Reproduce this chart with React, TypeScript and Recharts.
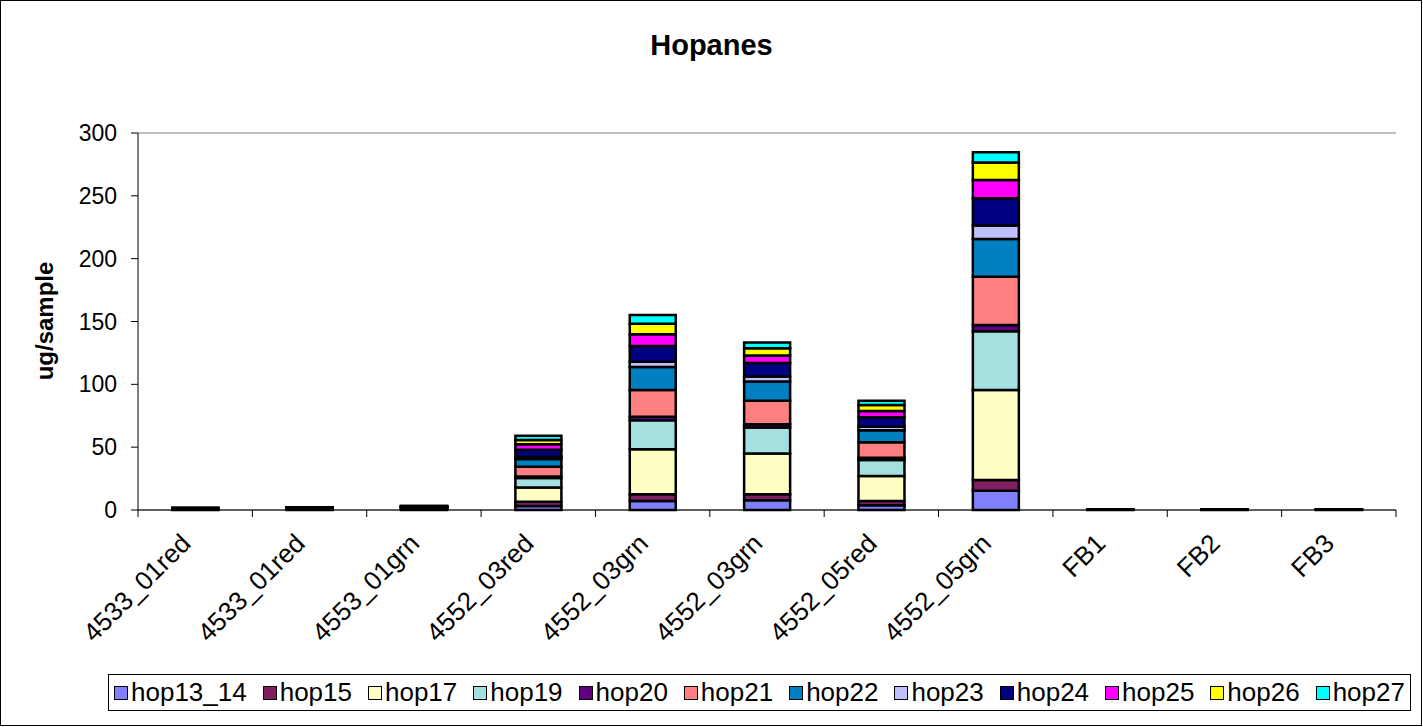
import React from 'react';
import { BarChart, Bar, XAxis, YAxis, CartesianGrid } from 'recharts';

const categories = ['4533_01red', '4533_01red', '4553_01grn', '4552_03red', '4552_03grn', '4552_03grn', '4552_05red', '4552_05grn', 'FB1', 'FB2', 'FB3'];

const hop13_14 = [0.2, 0.3, 0.4, 3.2, 7.2, 7.7, 3.7, 15.4, 0.1, 0.1, 0.1];
const hop15 = [0.1, 0.1, 0.2, 3.4, 5.3, 4.8, 3.4, 8.5, 0, 0, 0];
const hop17 = [0.4, 0.5, 0.7, 11.4, 35.8, 32.4, 19.9, 71.6, 0.1, 0.1, 0.1];
const hop19 = [0.3, 0.3, 0.5, 7.4, 23.1, 20.7, 12.7, 46.7, 0.1, 0.1, 0.1];
const hop20 = [0, 0, 0.1, 1.3, 2.9, 2.7, 1.8, 5, 0, 0, 0];
const hop21 = [0.2, 0.3, 0.4, 7.7, 21.2, 18.6, 12.5, 38.5, 0.1, 0.1, 0.1];
const hop22 = [0.2, 0.2, 0.3, 6.1, 18.3, 15.4, 9.5, 30, 0.1, 0.1, 0.1];
const hop23 = [0, 0.1, 0.1, 1.8, 4.2, 4, 2.7, 10.6, 0, 0, 0];
const hop24 = [0.1, 0.1, 0.2, 5.6, 12.5, 10.6, 7.7, 21.7, 0, 0, 0];
const hop25 = [0.1, 0.1, 0.1, 4.5, 9.3, 6.1, 4.8, 14.6, 0, 0, 0];
const hop26 = [0.1, 0.1, 0.1, 3.4, 8.5, 5.8, 4.8, 14, 0, 0, 0];
const hop27 = [0, 0, 0.1, 3.2, 6.9, 4.5, 3.5, 8, 0, 0, 0];

const yTicks = [0, 50, 100, 150, 200, 250, 300];

const series = [
  { key: 'hop13_14', values: hop13_14, color: '#8080ff' },
  { key: 'hop15', values: hop15, color: '#7f1f5f' },
  { key: 'hop17', values: hop17, color: '#ffffc4' },
  { key: 'hop19', values: hop19, color: '#a4e0e0' },
  { key: 'hop20', values: hop20, color: '#600080' },
  { key: 'hop21', values: hop21, color: '#ff8080' },
  { key: 'hop22', values: hop22, color: '#0080c0' },
  { key: 'hop23', values: hop23, color: '#c0c0ff' },
  { key: 'hop24', values: hop24, color: '#000080' },
  { key: 'hop25', values: hop25, color: '#ff00ff' },
  { key: 'hop26', values: hop26, color: '#ffff00' },
  { key: 'hop27', values: hop27, color: '#00ffff' },
];

const data = categories.map((name, i) => {
  const row: Record<string, string | number> = { name };
  series.forEach((s) => {
    row[s.key] = s.values[i];
  });
  return row;
});

const FONT = '"Liberation Sans", Arial, sans-serif';

// Excel-style category tick: mark on the category boundary, label rotated 45deg
const XTick = (props: any) => {
  const { x, y, payload, index, visibleTicksCount } = props;
  const half = payload.offset || 0;
  const tx = x - 3;
  const ty = y + 35;
  return (
    <g>
      <line x1={x - half} y1={y} x2={x - half} y2={y + 7} stroke="#000" />
      {index === visibleTicksCount - 1 && (
        <line x1={x + half} y1={y} x2={x + half} y2={y + 7} stroke="#000" />
      )}
      <text
        x={tx}
        y={ty}
        transform={`rotate(-45, ${tx}, ${ty})`}
        textAnchor="end"
        fontSize={26}
        fontFamily={FONT}
        fill="#000"
      >
        {payload.value}
      </text>
    </g>
  );
};

export default function App() {
  return (
    <div style={{ position: 'absolute', left: 0, top: 0, width: 1423, height: 727, background: '#fff', fontFamily: FONT }}>
      <div style={{ position: 'absolute', left: 0, top: 0, width: 1420, height: 724, border: '1px solid #000' }} />
      <div style={{ position: 'absolute', left: 0, top: 29, width: 1423, textAlign: 'center', fontSize: 29, fontWeight: 'bold' }}>
        Hopanes
      </div>
      <div
        style={{
          position: 'absolute',
          left: 45,
          top: 321,
          transform: 'translate(-50%, -50%) rotate(-90deg)',
          fontSize: 24,
          fontWeight: 'bold',
          whiteSpace: 'nowrap',
        }}
      >
        ug/sample
      </div>
      <div style={{ position: 'absolute', left: 0, top: 0 }}>
        <BarChart
          width={1423}
          height={727}
          data={data}
          margin={{ top: 133, right: 27, left: 78, bottom: 67 }}
          barCategoryGap="30%"
        >
          <CartesianGrid vertical={false} stroke="#808080" />
          <XAxis
            dataKey="name"
            interval={0}
            height={150}
            tickLine={false}
            tickSize={0}
            tickMargin={0}
            axisLine={{ stroke: '#000' }}
            tick={<XTick />}
          />
          <YAxis
            yAxisId="left"
            domain={[0, 300]}
            ticks={yTicks}
            width={60}
            tickSize={7}
            tickMargin={14}
            axisLine={{ stroke: '#000' }}
            tickLine={{ stroke: '#000' }}
            tick={{ fontSize: 23, fill: '#000', fontFamily: FONT }}
          />
          <YAxis yAxisId="right" orientation="right" width={0} tick={false} tickLine={false} axisLine={{ stroke: '#808080' }} />
          {series.map((s) => (
            <Bar
              key={s.key}
              yAxisId="left"
              dataKey={s.key}
              stackId="a"
              fill={s.color}
              stroke="#000"
              strokeWidth={2.5}
              isAnimationActive={false}
            />
          ))}
        </BarChart>
      </div>
      <div
        style={{
          position: 'absolute',
          left: 108,
          top: 674,
          width: 1303,
          height: 37,
          boxSizing: 'border-box',
          border: '1px solid #000',
          display: 'flex',
          alignItems: 'center',
          justifyContent: 'space-between',
          padding: '0 5px',
          fontSize: 26,
        }}
      >
        {series.map((s) => (
          <div key={s.key} style={{ display: 'flex', alignItems: 'center', whiteSpace: 'nowrap' }}>
            <span
              style={{
                display: 'inline-block',
                width: 12,
                height: 12,
                border: '1px solid #000',
                background: s.color,
                marginRight: 3,
              }}
            />
            <span>{s.key}</span>
          </div>
        ))}
      </div>
    </div>
  );
}
